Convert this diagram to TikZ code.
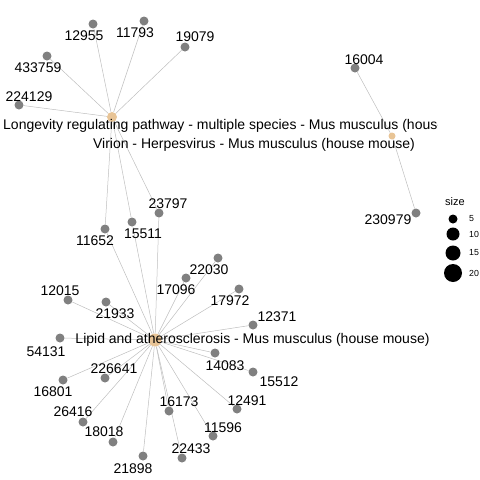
\documentclass[tikz,border=0pt]{standalone}
\usepackage{fontspec}
\setmainfont{Liberation Sans}
\usepackage{xcolor}
\usetikzlibrary{backgrounds}

\definecolor{genegray}{RGB}{128,128,128}
\definecolor{catbeige}{RGB}{232,196,150}
\definecolor{edgegray}{RGB}{190,190,190}

\begin{document}
\begin{tikzpicture}[x=1pt, y=-1pt,
  gene/.style={circle, fill=genegray, inner sep=0pt, minimum size=9pt},
  hub/.style={circle, fill=catbeige, inner sep=0pt},
  lbl/.style={font=\fontsize{14}{16}\selectfont, inner sep=0pt},
  edge/.style={draw=edgegray, line width=0.5pt},
  key/.style={circle, fill=black, inner sep=0pt}
]
\useasboundingbox (0,0) rectangle (480,480);

%% --- Category hubs ---
\node[hub, minimum size=10pt] (lng) at (112,117) {};
\node[hub, minimum size=7pt]  (vir) at (392,136) {};
\node[hub, minimum size=13pt] (lip) at (155,340) {};

%% --- Genes ---
\node[gene] (g12955)  at (93,24)   {};
\node[gene] (g11793)  at (144,21)  {};
\node[gene] (g19079)  at (185,47)  {};
\node[gene] (g433759) at (47,56)   {};
\node[gene] (g224129) at (19,105)  {};
\node[gene] (g16004)  at (355,68)  {};
\node[gene] (g230979) at (416,213) {};
\node[gene] (g11652)  at (105,229) {};
\node[gene] (g15511)  at (132,222) {};
\node[gene] (g23797)  at (159,213) {};
\node[gene] (g22030)  at (218,258) {};
\node[gene] (g17096)  at (186,278) {};
\node[gene] (g12015)  at (68,300)  {};
\node[gene] (g21933)  at (106,302) {};
\node[gene] (g17972)  at (239,289) {};
\node[gene] (g12371)  at (253,325) {};
\node[gene] (g54131)  at (60,338)  {};
\node[gene] (g14083)  at (215,353) {};
\node[gene] (g15512)  at (253,372) {};
\node[gene] (g226641) at (105,378) {};
\node[gene] (g16801)  at (63,380)  {};
\node[gene] (g12491)  at (237,409) {};
\node[gene] (g26416)  at (83,422)  {};
\node[gene] (g11596)  at (213,436) {};
\node[gene] (g18018)  at (113,442) {};
\node[gene] (g16173)  at (169,411) {};
\node[gene] (g22433)  at (182,458) {};
\node[gene] (g21898)  at (143,456) {};

%% --- Edges ---
\begin{scope}[on background layer]
  \draw[edge] (lng) -- (g12955);
  \draw[edge] (lng) -- (g11793);
  \draw[edge] (lng) -- (g19079);
  \draw[edge] (lng) -- (g433759);
  \draw[edge] (lng) -- (g224129);
  \draw[edge] (lng) -- (g11652);
  \draw[edge] (lng) -- (g15511);
  \draw[edge] (lng) -- (g23797);
  \draw[edge] (vir) -- (g16004);
  \draw[edge] (vir) -- (g230979);
  \draw[edge] (lip) -- (g11652);
  \draw[edge] (lip) -- (g15511);
  \draw[edge] (lip) -- (g23797);
  \draw[edge] (lip) -- (g22030);
  \draw[edge] (lip) -- (g17096);
  \draw[edge] (lip) -- (g12015);
  \draw[edge] (lip) -- (g21933);
  \draw[edge] (lip) -- (g17972);
  \draw[edge] (lip) -- (g12371);
  \draw[edge] (lip) -- (g54131);
  \draw[edge] (lip) -- (g14083);
  \draw[edge] (lip) -- (g15512);
  \draw[edge] (lip) -- (g226641);
  \draw[edge] (lip) -- (g16801);
  \draw[edge] (lip) -- (g12491);
  \draw[edge] (lip) -- (g26416);
  \draw[edge] (lip) -- (g11596);
  \draw[edge] (lip) -- (g18018);
  \draw[edge] (lip) -- (g16173);
  \draw[edge] (lip) -- (g22433);
  \draw[edge] (lip) -- (g21898);
\end{scope}

%% --- Gene labels ---
\node[lbl] (l12955)  at (84,36)   {12955};
\node[lbl] (l11793)  at (135,33)  {11793};
\node[lbl] (l19079)  at (195,37)  {19079};
\node[lbl] (l433759) at (38,68)   {433759};
\node[lbl] (l224129) at (29,97)   {224129};
\node[lbl] (l16004)  at (364,60)  {16004};
\node[lbl] (l230979) at (388,220) {230979};
\node[lbl] (l11652)  at (95,241)  {11652};
\node[lbl] (l15511)  at (143,234) {15511};
\node[lbl] (l23797)  at (168,204) {23797};
\node[lbl] (l22030)  at (209,270) {22030};
\node[lbl] (l17096)  at (176,290) {17096};
\node[lbl] (l12015)  at (60,291)  {12015};
\node[lbl] (l21933)  at (115,314) {21933};
\node[lbl] (l17972)  at (230,301) {17972};
\node[lbl] (l12371)  at (277,317) {12371};
\node[lbl] (l54131)  at (46,352)  {54131};
\node[lbl] (l14083)  at (225,366) {14083};
\node[lbl] (l15512)  at (279,382) {15512};
\node[lbl] (l226641) at (114,369) {226641};
\node[lbl] (l16801)  at (53,392)  {16801};
\node[lbl] (l12491)  at (247,401) {12491};
\node[lbl] (l26416)  at (73,412)  {26416};
\node[lbl] (l11596)  at (223,428) {11596};
\node[lbl] (l18018)  at (104,432) {18018};
\node[lbl] (l16173)  at (179,402) {16173};
\node[lbl] (l22433)  at (191,449) {22433};
\node[lbl] (l21898)  at (133,469) {21898};

%% --- Category labels ---
\begin{scope}
  \clip (0,0) rectangle (437,480);
  \node[lbl, anchor=base west] (tlng) at (3,129)
    {Longevity regulating pathway - multiple species - Mus musculus (house mouse)};
\end{scope}
\node[lbl, anchor=base] (tvir) at (254,148)
  {Virion - Herpesvirus - Mus musculus (house mouse)};
\node[lbl, anchor=base] (tlip) at (252.5,343)
  {Lipid and atherosclerosis - Mus musculus (house mouse)};

%% --- Size legend ---
\node[font=\fontsize{11}{13}\selectfont, inner sep=0pt] (ktitle) at (455,202) {size};
\node[key, minimum size=9pt]  (k5)  at (453,219) {};
\node[key, minimum size=13pt] (k10) at (453,234) {};
\node[key, minimum size=15pt] (k15) at (453,253) {};
\node[key, minimum size=18pt] (k20) at (453,273) {};
\node[font=\fontsize{8.8}{10}\selectfont, inner sep=0pt, anchor=west] at (469,219) {5};
\node[font=\fontsize{8.8}{10}\selectfont, inner sep=0pt, anchor=west] at (469,234) {10};
\node[font=\fontsize{8.8}{10}\selectfont, inner sep=0pt, anchor=west] at (469,253) {15};
\node[font=\fontsize{8.8}{10}\selectfont, inner sep=0pt, anchor=west] at (469,273) {20};
\end{tikzpicture}
\end{document}
